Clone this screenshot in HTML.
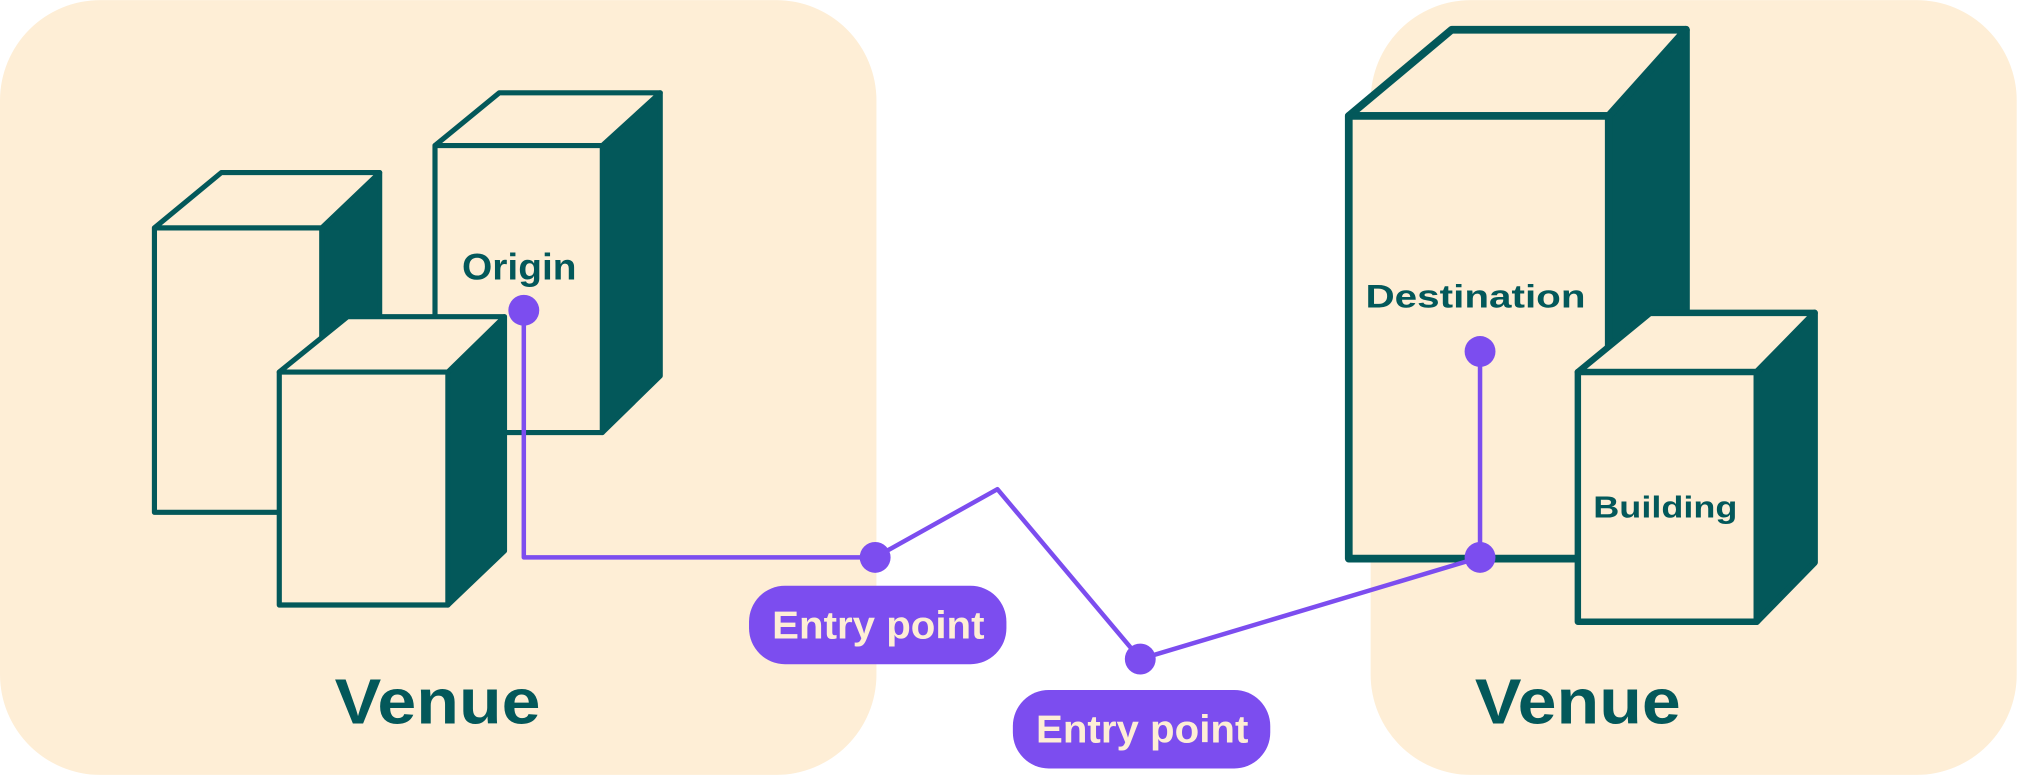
<!DOCTYPE html>
<html><head><meta charset="utf-8"><style>
html,body{margin:0;padding:0;background:#fff;}
svg{display:block;}
text{font-family:"Liberation Sans",sans-serif;font-weight:bold;}
</style></head><body>
<svg width="2018" height="775" viewBox="0 0 1568 602" xmlns="http://www.w3.org/2000/svg">
<rect x="0" y="0" width="681" height="602" rx="78" fill="#FEEED6"/>
<rect x="1065" y="0" width="502" height="602" rx="78" fill="#FEEED6"/>
<g stroke="#03585A" stroke-width="4" stroke-linejoin="round" fill="#FEEED6">
<polygon points="250,177 295,134 295,398 250,398" fill="#03585A"/>
<polygon points="120,177 172,134 295,134 250,177"/>
<rect x="120" y="177" width="130" height="221"/>
<polygon points="468,113 513,72 513,292 468,336" fill="#03585A"/>
<polygon points="338,113 388,72 513,72 468,113"/>
<rect x="338" y="113" width="130" height="223"/>
<polygon points="348,289 392,246 392,428 348,470" fill="#03585A"/>
<polygon points="217,289 270,246 392,246 348,289"/>
<rect x="217" y="289" width="131" height="181"/>
</g>
<g stroke="#03585A" stroke-width="6" stroke-linejoin="round" fill="#FEEED6">
<polygon points="1250,90 1310,23 1310,400 1250,434" fill="#03585A"/>
<polygon points="1048,90 1128,23 1310,23 1250,90"/>
<rect x="1048" y="90" width="202" height="344"/>
</g>
<g stroke="#03585A" stroke-width="5" stroke-linejoin="round" fill="#FEEED6">
<polygon points="1365,289 1410,243 1410,437 1365,483" fill="#03585A"/>
<polygon points="1226,289 1282,243 1410,243 1365,289"/>
<rect x="1226" y="289" width="139" height="194"/>
</g>
<text x="359" y="217" font-size="29" fill="#03585A" textLength="89" lengthAdjust="spacingAndGlyphs">Origin</text>
<text x="1061" y="239" font-size="25" fill="#03585A" textLength="171" lengthAdjust="spacingAndGlyphs">Destination</text>
<text x="1238" y="402" font-size="24" fill="#03585A" textLength="112" lengthAdjust="spacingAndGlyphs">Building</text>
<g fill="none" stroke="#7C4DEF" stroke-width="3.5" stroke-linejoin="round">
<polyline points="407,241 407,433 680,433 775,380 886,512 1150,433 1150,273"/>
</g>
<g fill="#7C4DEF">
<circle cx="407" cy="241" r="12"/>
<circle cx="680" cy="433" r="12"/>
<circle cx="886" cy="512" r="12"/>
<circle cx="1150" cy="433" r="12"/>
<circle cx="1150" cy="273" r="12"/>
<rect x="582" y="455" width="200" height="61" rx="28"/>
<rect x="787" y="536" width="200" height="61" rx="28"/>
</g>
<text x="600" y="496" font-size="30" fill="#FEEED6" textLength="165" lengthAdjust="spacingAndGlyphs">Entry point</text>
<text x="805" y="577" font-size="30" fill="#FEEED6" textLength="165" lengthAdjust="spacingAndGlyphs">Entry point</text>
<text x="260" y="562" font-size="50" fill="#03585A" textLength="160" lengthAdjust="spacingAndGlyphs">Venue</text>
<text x="1146" y="562" font-size="50" fill="#03585A" textLength="160" lengthAdjust="spacingAndGlyphs">Venue</text>
</svg>
</body></html>
